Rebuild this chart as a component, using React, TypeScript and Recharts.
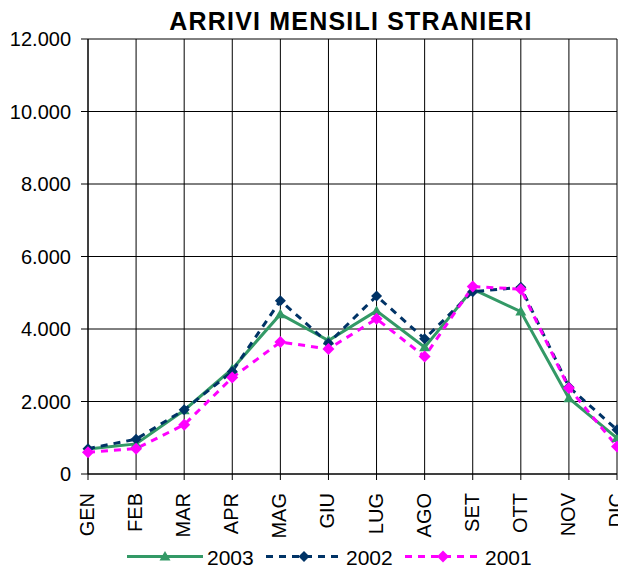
import { CartesianGrid, Line, LineChart, XAxis, YAxis } from "recharts";

const months = ["GEN", "FEB", "MAR", "APR", "MAG", "GIU", "LUG", "AGO", "SET", "OTT", "NOV", "DIC"];
const arrivi2003 = [690, 830, 1760, 2900, 4410, 3680, 4500, 3500, 5100, 4480, 2090, 990];
const arrivi2002 = [700, 960, 1770, 2830, 4780, 3610, 4910, 3730, 5030, 5150, 2400, 1220];
const arrivi2001 = [600, 700, 1360, 2660, 3640, 3450, 4280, 3240, 5170, 5100, 2370, 760];
const yTicks = [0, 2000, 4000, 6000, 8000, 10000, 12000];

const series = [
  { key: "y2003", name: "2003", color: "#339966", dash: undefined as string | undefined, marker: "triangle" },
  { key: "y2002", name: "2002", color: "#003366", dash: "7 6", marker: "diamond" },
  { key: "y2001", name: "2001", color: "#FF00FF", dash: "7 6", marker: "diamond" },
];

const data = months.map((m, i) => ({
  month: m,
  y2003: arrivi2003[i],
  y2002: arrivi2002[i],
  y2001: arrivi2001[i],
}));

const FONT = "'Liberation Sans', Arial, sans-serif";

function fmt(v: number) {
  return String(v).replace(/\B(?=(\d{3})+(?!\d))/g, ".");
}

function markerShape(kind: string, cx: number, cy: number, color: string, key?: string) {
  if (kind === "triangle") {
    return <path key={key} d={`M${cx},${cy - 5.5} L${cx + 5.5},${cy + 4} L${cx - 5.5},${cy + 4} Z`} fill={color} />;
  }
  const r = color === "#FF00FF" ? 6 : 5.5;
  return <path key={key} d={`M${cx},${cy - r} L${cx + r},${cy} L${cx},${cy + r} L${cx - r},${cy} Z`} fill={color} />;
}

function makeDot(kind: string, color: string) {
  return (props: any) => {
    const { cx, cy, index } = props;
    if (cx == null || cy == null) return <g key={index} />;
    return markerShape(kind, cx, cy, color, `d${index}`);
  };
}

const MonthTick = ({ x, y, payload }: any) => (
  <text
    transform={`translate(${x + 6},${y + 11}) rotate(-90)`}
    textAnchor="end"
    fontSize={20}
    fontFamily={FONT}
    fill="#000"
  >
    {payload.value}
  </text>
);

const legendPos = [127, 266, 405];

export default function App() {
  return (
    <div style={{ position: "absolute", left: 0, top: 0, width: 618, height: 571, overflow: "hidden", background: "#fff" }}>
      <LineChart width={660} height={571} data={data} margin={{ top: 39, right: 43, bottom: 0, left: 0 }}>
        <CartesianGrid stroke="#000" strokeWidth={1} />
        <XAxis
          dataKey="month"
          interval={0}
          height={97}
          tickSize={6}
          tick={<MonthTick />}
          stroke="#000"
          axisLine={{ stroke: "#000" }}
          tickLine={{ stroke: "#000" }}
        />
        <YAxis
          width={88}
          domain={[0, 12000]}
          ticks={yTicks}
          tickSize={7}
          tickMargin={10}
          tickFormatter={fmt}
          tick={{ fontSize: 20, fontFamily: FONT, fill: "#000" }}
          stroke="#000"
        />
        {series.map((s) => (
          <Line
            key={s.key}
            dataKey={s.key}
            name={s.name}
            type="linear"
            stroke={s.color}
            strokeWidth={3}
            strokeDasharray={s.dash}
            dot={makeDot(s.marker, s.color)}
            activeDot={false}
            isAnimationActive={false}
          />
        ))}
      </LineChart>
      <svg width={618} height={571} style={{ position: "absolute", left: 0, top: 0, pointerEvents: "none" }}>
        <text x={351} y={30} textAnchor="middle" fontSize={25} fontWeight="bold" fontFamily={FONT} letterSpacing={1.2} fill="#000">
          ARRIVI MENSILI STRANIERI
        </text>
        {series.map((s, i) => {
          const x0 = legendPos[i];
          return (
            <g key={s.key}>
              <line x1={x0} y1={556.5} x2={x0 + 76} y2={556.5} stroke={s.color} strokeWidth={3} strokeDasharray={s.dash} />
              {markerShape(s.marker, x0 + 38, 556.5, s.color)}
              <text x={x0 + 80} y={565} fontSize={21} fontFamily={FONT} fill="#000">
                {s.name}
              </text>
            </g>
          );
        })}
      </svg>
    </div>
  );
}
